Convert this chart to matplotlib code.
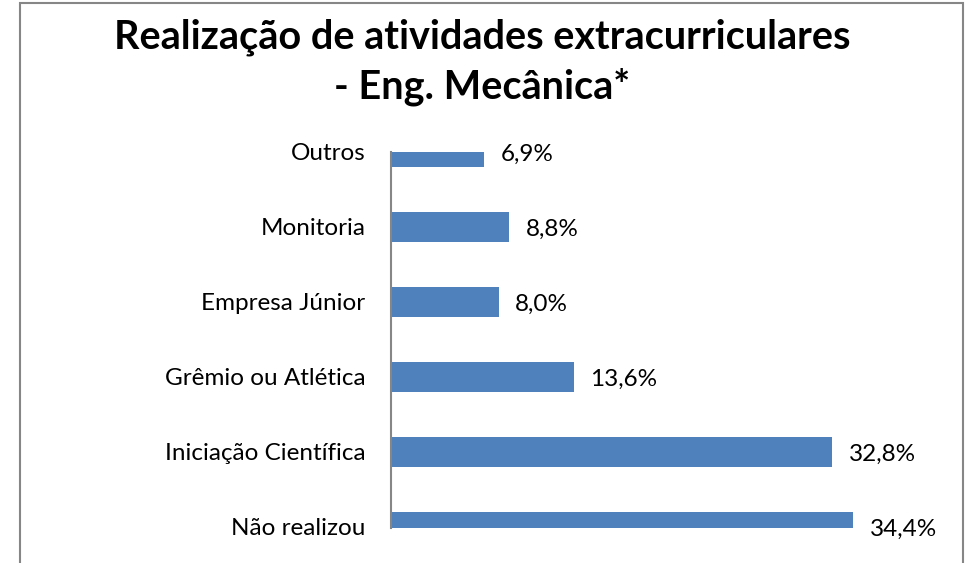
import matplotlib
matplotlib.use("Agg")
import matplotlib.pyplot as plt
from matplotlib.patches import Rectangle

categories = ["Não realizou", "Iniciação Científica", "Grêmio ou Atlética",
              "Empresa Júnior", "Monitoria", "Outros"]
values = [34.4, 32.8, 13.6, 8.0, 8.8, 6.9]
value_labels = ["34,4%", "32,8%", "13,6%", "8,0%", "8,8%", "6,9%"]
title_lines = ["Realização de atividades extracurriculares", "- Eng. Mecânica*"]

W, H = 965, 563
fig = plt.figure(figsize=(W / 100, H / 100), dpi=100)
plt.rcParams['font.family'] = ['Lato', 'DejaVu Sans']

# frame
fig.patches.append(Rectangle((20 / W, -0.1), (963 - 20) / W, 1.1 - 3 / H,
                             transform=fig.transFigure, fill=False,
                             edgecolor='#868686', linewidth=1.5))

left, right = 391, 391 + 40 * 13.44
top, bottom = 152, 528
ax = fig.add_axes([left / W, (H - bottom) / H, (right - left) / W, (bottom - top) / H])
y = list(range(len(categories)))
ax.barh(y, values, height=0.4, color='#4F81BD')
ax.set_xlim(0, 40)
ax.set_ylim(-0.015, 4.99)
ax.set_yticks(y)
ax.set_yticklabels(categories, fontsize=17.5, color='#000000')
ax.tick_params(axis='y', length=0, pad=18.5)
ax.set_xticks([])
for s in ['top', 'right', 'bottom']:
    ax.spines[s].set_visible(False)
ax.spines['left'].set_color('#868686')
ax.spines['left'].set_linewidth(1.5)
ax.patch.set_alpha(0)

for yi, v, lab in zip(y, values, value_labels):
    ax.annotate(lab, xy=(v, yi), xytext=(12.0, -1.8), textcoords='offset points',
                ha='left', va='center', fontsize=17.5, color='#000000',
                annotation_clip=False)

fig.text(0.5, 1 - 48 / H, title_lines[0], ha='center', va='baseline',
         fontsize=28.5, fontweight='bold')
fig.text(0.5, 1 - 98 / H, title_lines[1], ha='center', va='baseline',
         fontsize=28.5, fontweight='bold')

fig.savefig("out.png", dpi=100)
